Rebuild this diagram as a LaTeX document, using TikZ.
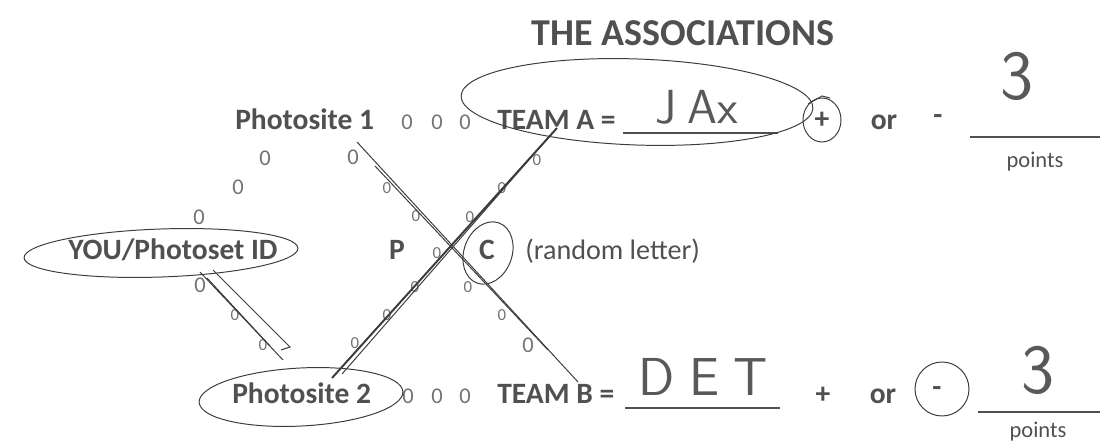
\documentclass[tikz,border=0pt]{standalone}
\usepackage{fontspec}
\setmainfont{Carlito}
\usetikzlibrary{positioning}

\definecolor{ink}{HTML}{505050}
\definecolor{pencil}{HTML}{3C3C3C}

\tikzset{
  heading/.style={font=\fontsize{27}{30}\selectfont\bfseries, text=ink, inner sep=0pt},
  field/.style={font=\fontsize{21}{24}\selectfont\bfseries, text=ink, inner sep=0pt},
  plain/.style={font=\fontsize{20}{24}\selectfont, text=ink, inner sep=0pt},
  unit/.style={font=\fontsize{16}{18}\selectfont, text=ink, inner sep=0pt},
  trail/.style={font=\fontsize{16}{18}\selectfont, text=ink!80, inner sep=0pt},
  tiny trail/.style={font=\fontsize{12}{14}\selectfont, text=ink!80, inner sep=0pt},
  hand/.style={font=\sffamily\fontsize{34}{36}\selectfont, text=pencil!85, inner sep=0pt},
  pen/.style={draw=pencil, line width=0.7pt},
  rule/.style={draw=ink, line width=1.4pt},
}

\begin{document}
\begin{tikzpicture}[x=0.025cm,y=-0.025cm]
  \useasboundingbox (0,0) rectangle (1102,444);

  % heading
  \node[heading, anchor=base] (title) at (683,46) {THE ASSOCIATIONS};

  % team A row
  \node[field, anchor=base west] (ps1) at (235,130) {Photosite 1};
  \foreach \x [count=\i] in {407,437,465}
    \node[trail, anchor=base] (rowA\i) at (\x,130) {0};
  \node[field, anchor=base west] (teamA) at (497,130) {TEAM A =};
  \coordinate (ulA) at (623,133);
  \coordinate (urA) at (778,133);
  \draw[rule] (ulA) -- (urA);
  \node[hand] (pickA) at (697,107) {J\hspace{8pt}Ax};
  \node[field] (plusA) at (822,120) {+};
  \node[field, anchor=base] (orA) at (884,130) {or};
  \node[field] (minusA) at (938,120) {-};
  \coordinate (plA) at (970,137);
  \coordinate (prA) at (1100,137);
  \draw[rule] (plA) -- (prA);
  \node[hand, font=\sffamily\fontsize{50}{52}\selectfont] (scoreA) at (1017,76) {3};
  \node[unit] (ptsA) at (1035,162) {points};

  % middle row
  \node[field, anchor=base west] (you) at (68,260) {YOU/Photoset ID};
  \node[field, anchor=base] (P) at (397,260) {P};
  \node[field, anchor=base] (C) at (487,260) {C};
  \node[plain, anchor=base west] (rnd) at (525,260) {(random letter)};

  % team B row
  \node[field, anchor=base west] (ps2) at (232,403) {Photosite 2};
  \foreach \x [count=\i] in {408,437,465}
    \node[trail, anchor=base] (rowB\i) at (\x,403) {0};
  \node[field, anchor=base west] (teamB) at (497,403) {TEAM B =};
  \coordinate (ulB) at (625,408);
  \coordinate (urB) at (780,408);
  \draw[rule] (ulB) -- (urB);
  \node[hand, font=\sffamily\fontsize{38}{40}\selectfont] (pickB) at (703,377) {D\hspace{10pt}E\hspace{10pt}T};
  \node[field] (plusB) at (823,395) {+};
  \node[field, anchor=base] (orB) at (883,403) {or};
  \node[field] (minusB) at (937,392) {-};
  \coordinate (plB) at (978,412);
  \coordinate (prB) at (1100,412);
  \draw[rule] (plB) -- (prB);
  \node[hand, font=\sffamily\fontsize{50}{52}\selectfont] (scoreB) at (1038,370) {3};
  \node[unit, anchor=base] (ptsB) at (1038,437) {points};

  % dotted trails
  \foreach \p [count=\i] in {(265,158),(353,157),(238,187),(199,217),(200,285)}
    \node[trail] (dot\i) at \p {0};
  \foreach \p [count=\i] in {(235,315),(263,345),(387,188),(416,216),(437,253),
                             (468,287),(502,315),(537,160),(502,188),(470,217),
                             (415,287),(387,315),(355,343)}
    \node[tiny trail] (tdot\i) at \p {0};
  \node[trail] (dotE) at (528,345) {0};

  % pencil marks
  \coordinate (a1) at (357,142);
  \coordinate (a2) at (578,382);
  \coordinate (b1) at (332,378);
  \coordinate (b2) at (557,128);
  \draw[pen] (a1) -- (a2);
  \draw[pen] (375,166) -- (548,350);
  \draw[pen, line width=1.4pt] (b1) -- (b2);
  \draw[pen] (342,374) -- (548,138);
  \coordinate (y1) at (200,272);
  \coordinate (y2) at (283,360);
  \draw[pen] (y1) -- (y2);
  \draw[pen] (213,270) -- (290,347) -- (281,350);
  \draw[pen] (207,278) -- (270,346);

  % circled answers
  \draw[pen] (637,102) ellipse [x radius=176, y radius=43, rotate=-2];
  \draw[pen] (161,253) ellipse [x radius=137, y radius=24, rotate=2];
  \draw[pen] (301,397) ellipse [x radius=102, y radius=29, rotate=3];
  \draw[pen] (488,253) ellipse [x radius=24, y radius=32, rotate=-20];
  \draw[pen] (822,120) ellipse [x radius=19, y radius=22];
  \draw[pen] (808,104) -- (822,96) -- (830,98);
  \draw[pen] (942,389) circle [radius=27];
\end{tikzpicture}
\end{document}
